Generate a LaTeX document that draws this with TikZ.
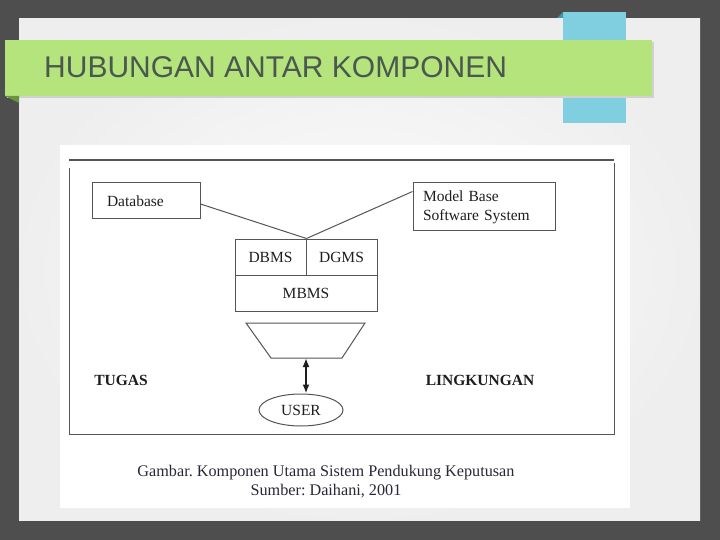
\documentclass[tikz,border=0pt]{standalone}
\usepackage{fontspec}
\setmainfont{Liberation Serif}
\newfontfamily\headfont{Liberation Sans}
\usetikzlibrary{shapes.geometric, arrows.meta}
\frenchspacing

\definecolor{slidebg}{RGB}{78,78,78}
\definecolor{bannergreen}{RGB}{181,228,124}
\definecolor{foldgreen}{RGB}{104,150,62}
\definecolor{tabcyan}{RGB}{128,207,224}
\definecolor{tabfold}{RGB}{62,150,168}
\definecolor{titleink}{RGB}{74,88,80}
\definecolor{diag}{RGB}{85,85,85}
\definecolor{ink}{RGB}{30,30,30}
\definecolor{capink}{RGB}{40,40,55}
\newcommand{\diagfont}{\fontsize{15.5}{19}\selectfont}

\begin{document}
\begin{tikzpicture}[x=1pt,y=-1pt,
    box/.style={draw=diag, line width=1pt, minimum height=36pt, inner sep=0pt, font=\diagfont, text=ink},
    link/.style={draw=diag, line width=1pt},
    lbl/.style={font=\diagfont\bfseries, text=ink}]
    \useasboundingbox (0,0) rectangle (720,540);
    % slide background and panel
    \fill[slidebg] (0,0) rectangle (720,540);
    \shade[inner color=white!98!gray, outer color=gray!13] (19,19) rectangle (700,520);
    % title banner
    \fill[tabcyan] (563,12) rectangle (626,123);
    \fill[tabfold] (557,18) -- (563,12) -- (563,18) -- cycle;
    \fill[black!18] (7,42) rectangle (654,98);
    \fill[bannergreen] (5,40) rectangle (652,96);
    \fill[foldgreen] (5,96) -- (19,96) -- (19,103) -- cycle;
    \node[anchor=west, inner sep=0pt, font=\headfont\fontsize{30}{36}\selectfont, text=titleink] (title) at (44,67) {HUBUNGAN ANTAR KOMPONEN};
    % picture
    \fill[white] (60,145) rectangle (630,508);
    \draw[diag, line width=2pt] (69,160) -- (614,160);
    \draw[link] (69,168) -- (69,434) -- (614,434) -- (614,163);
    \node[box, minimum width=108pt, text width=78pt, inner xsep=15pt, align=left] (db) at (146,201) {Database};
    \node[box, minimum width=142pt, minimum height=48pt, text width=122pt, inner xsep=10pt, align=left] (mbss) at (484,207) {Model Base\\Software System};
    \node[box, minimum width=71pt] (dbms) at (270.5,257) {DBMS};
    \node[box, minimum width=71pt] (dgms) at (341.5,257) {DGMS};
    \node[box, minimum width=142pt] (mbms) at (306,293) {MBMS};
    \draw[link] ([yshift=-3pt]db.east) -- (dbms.north east);
    \draw[link] ([yshift=-9pt]mbss.north west) -- (dbms.north east);
    \draw[link] (246,323) -- (365,323) -- (342,358) -- (271,358) -- cycle;
    \coordinate (funnel) at (306,358);
    \node[draw=diag, ellipse, line width=1pt, minimum width=84pt, minimum height=32pt, inner sep=0pt, font=\diagfont, text=ink] (user) at (301,410) {USER};
    \draw[ink, line width=2pt, {Latex[length=9pt,width=7pt]}-{Latex[length=9pt,width=7pt]}] (funnel) -- (funnel |- user.north);
    \node[lbl] (tugas) at (121,380) {TUGAS};
    \node[lbl] (lingkungan) at (480,380) {LINGKUNGAN};
    \node[font=\fontsize{16.2}{19}\selectfont, text=capink, align=center] (caption) at (326,482) {Gambar. Komponen Utama Sistem Pendukung Keputusan\\Sumber: Daihani, 2001};
\end{tikzpicture}
\end{document}
